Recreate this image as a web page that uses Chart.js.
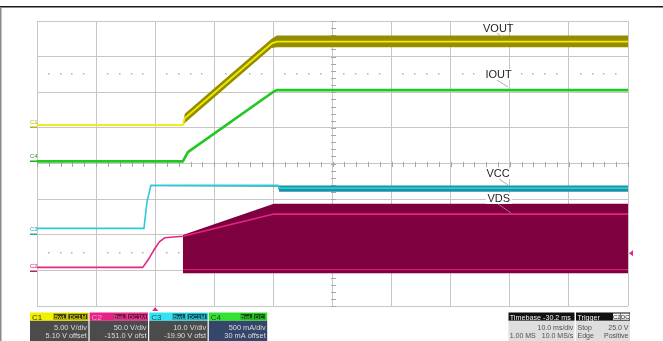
<!DOCTYPE html>
<html><head><meta charset="utf-8">
<script src="https://cdn.jsdelivr.net/npm/chart.js@4.4.1/dist/chart.umd.min.js"></script>
<style>html,body{margin:0;padding:0;background:#fff;overflow:hidden}#wrap{position:relative;width:663px;height:341px}canvas{display:block}</style>
</head><body><div id="wrap"><canvas id="c" width="663" height="341" style="width:663px;height:341px"></canvas></div>
<script>
// ---- channel settings ----
const chNames      = ['C1', 'C2', 'C3', 'C4'];
const chScales     = [5, 50, 10, 0.5];          // units per division
const chOffsets    = [5.10, -151.0, -19.90, 0.03];
const chScaleText  = ['5.00 V/div', '50.0 V/div', '10.0 V/div', '500 mA/div'];
const chOffsetText = ['5.10 V offset', '-151.0 V ofst', '-19.90 V ofst', '30 mA offset'];
const traceNames   = ['VOUT', 'IOUT', 'VCC', 'VDS'];

// ---- time axis: 10 ms/div, trigger at 0 ----
const timeTicks = [-20, -10, 0, 10, 20, 30, 40, 50, 60, 70, 80];
const divTicks  = [-4, -3, -2, -1, 0, 1, 2, 3, 4];

// ---- C1  VOUT (V) ----
const voutTime  = [-20, 4.68, 5.0, 19.7, 20.6, 80];
const voutVolts = [0.3, 0.3, 1.25, 11.75, 12.0, 12.0];
const voutBandTime = [4.68, 5.0, 19.7, 20.6, 80];
const voutBandHigh = [0.3, 1.9, 12.4, 12.85, 12.85];
const voutBandLow  = [0.3, 0.6, 11.1, 11.2, 11.2];

// ---- C4  IOUT (A) ----
const ioutTime = [-20, 4.68, 5.53, 20.07, 20.6, 80];
const ioutAmps = [0, 0, 0.13, 0.98, 1.0, 1.0];

// ---- C3  VCC (V) ----
const vccTime  = [-20, -1.9, -1.4, -0.73, 20.75, 21.0, 80];
const vccVolts = [1.7, 1.7, 9.0, 13.8, 13.8, 13.0, 13.0];
const vccBandTime = [-0.73, 20.75, 21.0, 80];
const vccBandHigh = [13.85, 13.85, 13.75, 13.75];
const vccBandLow  = [13.5, 13.35, 12.0, 12.0];

// ---- C2  VDS (V) ----
const vdsTime  = [-20, -2.1, -1.2, -0.2, 0.7, 1.6, 4.68, 20.07, 80];
const vdsVolts = [5.2, 5.2, 15.8, 29.9, 41, 46.7, 49, 80, 80];
const vdsEnvTime = [4.68, 20.07, 80];
const vdsEnvHigh = [50.5, 94.4, 94.4];
const vdsEnvLowVolts = -3.2;
const vdsLowTime  = [4.68, 80];
const vdsLowVolts = [2, 2];

const triggerLevel = 25.0;   // V on C2
const triggerTime  = 0;

// ---------------------------------------------------------------
function toDiv(v, ch) { return (v + chOffsets[ch]) / chScales[ch]; }
function series(times, vals, ch) { return times.map((t, i) => ({ x: t, y: toDiv(vals[i], ch) })); }

const COL = {
  c1: '#ecec00', c1band: '#958c00',
  c4: '#22c822',
  c3: '#2ccbdc', c3band: '#1b93a3',
  c2: '#e42585', c2fill: '#7e003f'
};

const datasets = [
  { data: series(voutTime, voutVolts, 0), borderColor: COL.c1, borderWidth: 1.8, order: 0 },
  { data: series(voutBandTime, voutBandHigh, 0), borderWidth: 0, backgroundColor: COL.c1band, fill: '+1', order: 4 },
  { data: series(voutBandTime, voutBandLow, 0), borderWidth: 0, order: 4 },
  { data: series(ioutTime, ioutAmps, 3), borderColor: COL.c4, borderWidth: 2.6, order: 1 },
  { data: series(vccTime, vccVolts, 2), borderColor: COL.c3, borderWidth: 1.6, order: 1 },
  { data: series(vccBandTime, vccBandHigh, 2), borderWidth: 0, backgroundColor: COL.c3band, fill: '+1', order: 4 },
  { data: series(vccBandTime, vccBandLow, 2), borderWidth: 0, order: 4 },
  { data: series(vdsTime, vdsVolts, 1), borderColor: COL.c2, borderWidth: 1.6, order: 1 },
  { data: series(vdsEnvTime, vdsEnvHigh, 1), borderWidth: 0, backgroundColor: COL.c2fill, fill: { value: toDiv(vdsEnvLowVolts, 1) }, order: 5 },
  { data: series(vdsLowTime, vdsLowVolts, 1), borderColor: COL.c2, borderWidth: 1, order: 1 }
];

const FONT = "'Liberation Sans', Arial, sans-serif";

// label layout (pixel placement of annotation text)
const labelLayout = [
  { x: 483, y: 31.5, l: [497, 33, 503, 38], bg: false },
  { x: 485.5, y: 78.3, l: [497, 80, 508, 87], bg: true },
  { x: 486.5, y: 177.3, l: [499, 179, 508, 185], bg: true },
  { x: 487.5, y: 202.3, l: [498, 204, 511, 213], bg: true }
];

function drawPanel(ctx) {
  const top = 312.5, hh = 8.3, bTop = top + hh, bottom = 341;
  const chX = [30, 89.6, 149.2, 208.8], chW = 58.4;
  const hdr = ['#f0f000', '#e62286', '#36e2f2', '#34e234'];
  const hdrText = ['#3a3a00', '#ff9fd0', '#065a66', '#0c5a0c'];
  const boxBg = ['#3a3a08', '#7a0a44', '#0b4c58', '#0b4a0b'];
  const boxTx = ['#f0f000', '#ff5cb0', '#40e6f6', '#40f040'];
  const body = ['#4b4b4b', '#4b4b4b', '#4b4b4b', '#34476a'];
  const tags = [[[23.3, 13.4, 'BwL'], [37.7, 20.4, 'DC1M']], [[23.3, 13.4, 'BwL'], [37.7, 20.4, 'DC1M']],
                [[23.3, 13.4, 'BwL'], [37.7, 20.4, 'DC1M']], [[31.4, 12.6, 'BwL'], [44.7, 11.9, 'DC']]];
  ctx.textBaseline = 'alphabetic';
  for (let i = 0; i < 4; i++) {
    const x = chX[i];
    ctx.fillStyle = hdr[i]; ctx.fillRect(x, top, chW, hh);
    ctx.fillStyle = body[i]; ctx.fillRect(x, bTop, chW, bottom - bTop);
    ctx.font = '8px ' + FONT; ctx.textAlign = 'left';
    ctx.fillStyle = hdrText[i]; ctx.fillText(chNames[i], x + 2, top + 7.3);
    for (const [dx, w, s] of tags[i]) {
      ctx.fillStyle = boxBg[i]; ctx.fillRect(x + dx, top + 1, w, hh - 2);
      ctx.strokeStyle = boxTx[i]; ctx.lineWidth = 0.6; ctx.strokeRect(x + dx + 0.3, top + 1.3, w - 0.6, hh - 2.6);
      ctx.fillStyle = boxTx[i]; ctx.font = '6px ' + FONT; ctx.textAlign = 'center';
      ctx.fillText(s, x + dx + w / 2, top + 6.4);
    }
    ctx.fillStyle = '#dcdcdc'; ctx.font = '7.4px ' + FONT; ctx.textAlign = 'right';
    ctx.fillText(chScaleText[i], x + chW - 1.5, 329.5);
    ctx.fillText(chOffsetText[i], x + chW - 1.5, 338.3);
  }
  // timebase
  const tx = 508.5, tw = 66;
  ctx.fillStyle = '#111'; ctx.fillRect(tx, top, tw, hh);
  ctx.fillStyle = '#dedede'; ctx.fillRect(tx, bTop, tw, bottom - bTop);
  ctx.font = '7.2px ' + FONT; ctx.textAlign = 'left'; ctx.fillStyle = '#f2f2f2';
  ctx.fillText('Timebase -30.2 ms', tx + 1.2, top + 7);
  ctx.font = '7px ' + FONT; ctx.fillStyle = '#505050';
  ctx.textAlign = 'right'; ctx.fillText('10.0 ms/div', tx + tw - 1.2, 329.5);
  ctx.fillText('10.0 MS/s', tx + tw - 1.2, 338.3);
  ctx.textAlign = 'left'; ctx.fillText('1.00 MS', tx + 1.2, 338.3);
  // trigger
  const gx = 576, gw = 54;
  ctx.fillStyle = '#111'; ctx.fillRect(gx, top, gw, hh);
  ctx.fillStyle = '#dedede'; ctx.fillRect(gx, bTop, gw, bottom - bTop);
  ctx.font = '7.2px ' + FONT; ctx.fillStyle = '#f2f2f2'; ctx.fillText('Trigger', gx + 1.5, top + 7);
  for (const [dx, w, s] of [[37, 7.5, 'C2'], [45, 8.5, 'DC']]) {
    ctx.fillStyle = '#f4f4f4'; ctx.fillRect(gx + dx, top + 1, w, hh - 2);
    ctx.fillStyle = '#222'; ctx.font = '6px ' + FONT; ctx.textAlign = 'center';
    ctx.fillText(s, gx + dx + w / 2, top + 6.4);
  }
  ctx.font = '7px ' + FONT; ctx.fillStyle = '#505050';
  ctx.textAlign = 'left'; ctx.fillText('Stop', gx + 1.5, 329.5); ctx.fillText('Edge', gx + 1.5, 338.3);
  ctx.textAlign = 'right'; ctx.fillText(triggerLevel.toFixed(1) + ' V', gx + gw - 1.5, 329.5);
  ctx.fillText('Positive', gx + gw - 1.5, 338.3);
}

const decor = {
  id: 'decor',
  beforeDraw(chart) {
    const c = chart.ctx; c.save();
    c.fillStyle = '#fff'; c.fillRect(0, 0, chart.width, chart.height);
    c.fillStyle = '#1a1a1a'; c.fillRect(0, 6, chart.width, 1.5);
    c.fillStyle = '#8a8a8a'; c.fillRect(0, 7, 1.5, chart.height - 7);
    c.restore();
  },
  beforeDatasetsDraw(chart) {
    const { ctx, scales: { x, y } } = chart;
    ctx.save();
    ctx.fillStyle = '#b0b0b0';
    for (const d of [2.5, -2.5]) {
      const py = Math.round(y.getPixelForValue(d));
      for (let t = -20; t < 80; t += 10) for (let k = 1; k < 5; k++) {
        const px = Math.round(x.getPixelForValue(t + 2 * k));
        ctx.fillRect(px - 1, py - 1, 1.5, 1.5);
      }
    }
    ctx.strokeStyle = '#a6a6a6'; ctx.lineWidth = 1;
    const cx = Math.round(x.getPixelForValue(30)) + 0.5, cy = Math.round(y.getPixelForValue(0)) + 0.5;
    ctx.beginPath();
    for (let k = -20; k <= 20; k++) { const py = Math.round(y.getPixelForValue(k / 5)) + 0.5; ctx.moveTo(cx - 2.5, py); ctx.lineTo(cx + 2.5, py); }
    for (let k = -10; k <= 40; k++) { const px = Math.round(x.getPixelForValue(k * 2)) + 0.5; ctx.moveTo(px, cy - 2.5); ctx.lineTo(px, cy + 2.5); }
    ctx.stroke();
    ctx.restore();
  },
  afterDatasetsDraw(chart) {
    const { ctx, scales: { x, y }, chartArea: a } = chart;
    ctx.save();
    ctx.textBaseline = 'alphabetic';
    // trace labels
    ctx.font = '11px ' + FONT; ctx.textAlign = 'left';
    traceNames.forEach((s, i) => {
      const L = labelLayout[i]; const w = ctx.measureText(s).width;
      if (L.bg) { ctx.fillStyle = '#fff'; ctx.fillRect(L.x - 1.5, L.y - 9, w + 3, 10.5); }
      ctx.strokeStyle = '#9a9a9a'; ctx.lineWidth = 0.8;
      ctx.beginPath(); ctx.moveTo(L.l[0], L.l[1]); ctx.lineTo(L.l[2], L.l[3]); ctx.stroke();
      ctx.fillStyle = '#1e1e1e'; ctx.fillText(s, L.x, L.y);
    });
    // ground markers on the left
    const mk = ['#b8b800', '#c21a6c', '#22a6b6', '#22a822'];
    [0, 3, 2, 1].forEach(ch => {
      const gy = Math.round(y.getPixelForValue(toDiv(0, ch)));
      ctx.fillStyle = mk[ch];
      ctx.fillRect(a.left - 7, gy - 0.5, 7, 1.5);
      ctx.font = '6px ' + FONT; ctx.textAlign = 'left';
      ctx.fillText(chNames[ch], a.left - 7, gy - 3);
    });
    // trigger markers
    ctx.fillStyle = COL.c2;
    const tx = x.getPixelForValue(triggerTime);
    ctx.beginPath(); ctx.moveTo(tx, a.bottom + 1); ctx.lineTo(tx - 3, a.bottom + 5); ctx.lineTo(tx + 3, a.bottom + 5); ctx.closePath(); ctx.fill();
    const ty = y.getPixelForValue(toDiv(triggerLevel, 1));
    ctx.beginPath(); ctx.moveTo(a.right + 1, ty); ctx.lineTo(a.right + 5, ty - 3); ctx.lineTo(a.right + 5, ty + 3); ctx.closePath(); ctx.fill();
    ctx.restore();
  },
  afterDraw(chart) { const c = chart.ctx; c.save(); drawPanel(c); c.restore(); }
};

new Chart(document.getElementById('c'), {
  type: 'line',
  data: { datasets },
  options: {
    responsive: false, animation: false, devicePixelRatio: 1,
    layout: { padding: { left: 37, top: 21, right: 35, bottom: 35 } },
    plugins: { legend: { display: false }, tooltip: { enabled: false } },
    elements: { point: { radius: 0 }, line: { tension: 0, borderJoinStyle: 'round' } },
    scales: {
      x: { type: 'linear', min: timeTicks[0], max: timeTicks[timeTicks.length - 1],
           afterBuildTicks: s => { s.ticks = timeTicks.map(v => ({ value: v })); },
           ticks: { display: false }, grid: { color: '#c6c6c6', drawTicks: false }, border: { display: false } },
      y: { type: 'linear', min: divTicks[0], max: divTicks[divTicks.length - 1],
           afterBuildTicks: s => { s.ticks = divTicks.map(v => ({ value: v })); },
           ticks: { display: false }, grid: { color: '#c6c6c6', drawTicks: false }, border: { display: false } }
    }
  },
  plugins: [decor]
});
</script></body></html>
